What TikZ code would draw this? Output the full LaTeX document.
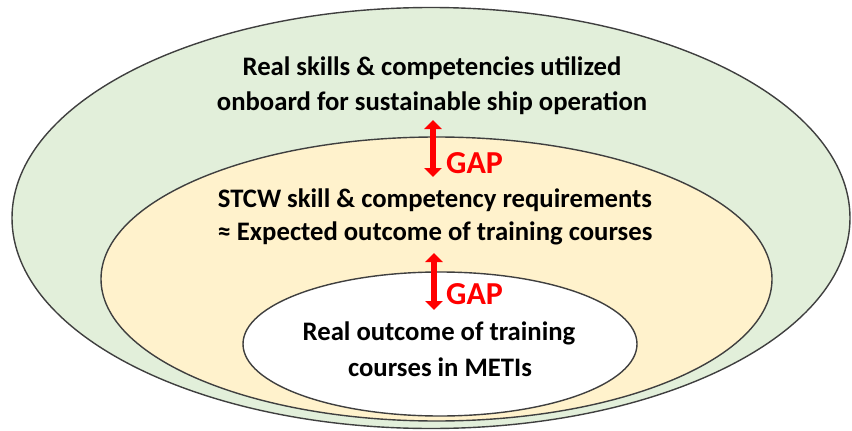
\documentclass[tikz,border=0pt]{standalone}
\usepackage{fontspec}
\setmainfont{Carlito}
\usetikzlibrary{arrows.meta,shapes.geometric}
\definecolor{outerfill}{HTML}{E2EFDA}
\definecolor{midfill}{HTML}{FFF2CC}
\definecolor{rimgray}{HTML}{3F3F3F}
\definecolor{gapred}{HTML}{FF0000}
\begin{document}
\begin{tikzpicture}[x=1pt,y=-1pt,
  zone/.style={ellipse, draw=rimgray, line width=1.4pt, inner sep=0pt},
  caption/.style={anchor=base, inner sep=0pt, font=\fontsize{26.7}{32}\selectfont\bfseries},
  gaplabel/.style={anchor=base west, inner sep=0pt, text=gapred, font=\fontsize{32}{38}\selectfont\bfseries},
  gaparrow/.style={draw=gapred, line width=6pt, {Triangle[width=17pt,length=9pt]}-{Triangle[width=17pt,length=9pt]}}
]
\useasboundingbox (0,0) rectangle (852,431);

% nested zones
\node[zone, fill=outerfill, minimum width=838pt, minimum height=421pt] (outer) at (431,218) {};
\node[zone, fill=midfill, minimum width=671pt, minimum height=284pt] (middle) at (436.5,279) {};
\node[zone, fill=white, minimum width=394pt, minimum height=144pt] (inner) at (440,344) {};

% zone captions
\node[caption] (real1) at (432,75) {Real skills \& competencies utilized};
\node[caption] (real2) at (432,110) {onboard for sustainable ship operation};
\node[caption] (stcw1) at (435,207) {STCW skill \& competency requirements};
\node[caption] (stcw2) at (435,240) {≈ Expected outcome of training courses};
\node[caption] (out1) at (439,340) {Real outcome of training};
\node[caption] (out2) at (440,376) {courses in METIs};

% gaps between the zones
\coordinate (gapAtop) at (433,120);
\coordinate (gapAbot) at (433,177);
\coordinate (gapBtop) at (434,253);
\coordinate (gapBbot) at (434,310);
\draw[gaparrow] (gapAtop) -- (gapAbot);
\draw[gaparrow] (gapBtop) -- (gapBbot);
\node[gaplabel] (gapA) at (446,173) {GAP};
\node[gaplabel] (gapB) at (446,304) {GAP};
\end{tikzpicture}
\end{document}
